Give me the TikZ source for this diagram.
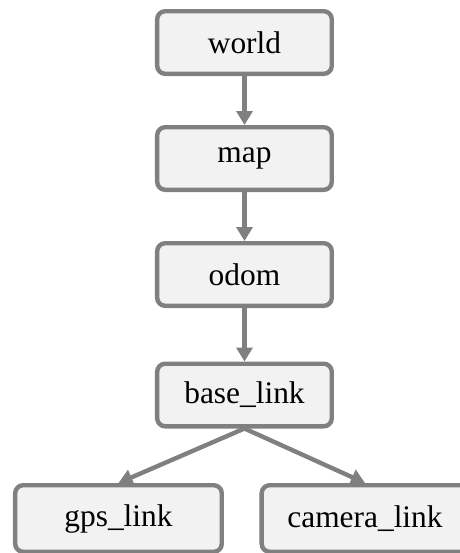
\documentclass[tikz,border=0pt]{standalone}
\usepackage{fontspec}
\setmainfont{Liberation Serif}
\usetikzlibrary{positioning,arrows.meta}
\definecolor{framegray}{RGB}{128,128,128}
\definecolor{boxfill}{RGB}{242,242,242}
\tikzset{block/.style={draw=framegray,fill=boxfill,line width=2.2pt,rounded corners=4pt,minimum width=87.3pt,minimum height=31.3pt,font=\fontsize{15.7}{18}\selectfont},
         leaf/.style={block,minimum width=103.3pt,minimum height=33.3pt}
}
\tikzstyle{arrow} = [draw=framegray,line width=2.2pt,-{Triangle[length=7pt,width=8pt]}]

\begin{document}
\begin{tikzpicture}
\useasboundingbox (-122.25pt,21.25pt) rectangle (107.75pt,-255.25pt);

\node[block] (world) {world};
\node[block,below=24.5pt of world] (map) {map};
\node[block,below=24.5pt of map] (odom) {odom};
\node[block,below=26.75pt of odom] (base) {base\_link};
\node[leaf,below=27.25pt of base,xshift=-63pt] (gps) {gps\_link};
\node[leaf,below=27.25pt of base,xshift=60.25pt] (camera) {camera\_link};
\draw[arrow] (world)--(map);
\draw[arrow] (map)--(odom);
\draw[arrow] (odom)--(base);
\draw[arrow] (base.south)--(gps.north);
\draw[arrow] (base.south)--(camera.north);

\end{tikzpicture}
\end{document}
